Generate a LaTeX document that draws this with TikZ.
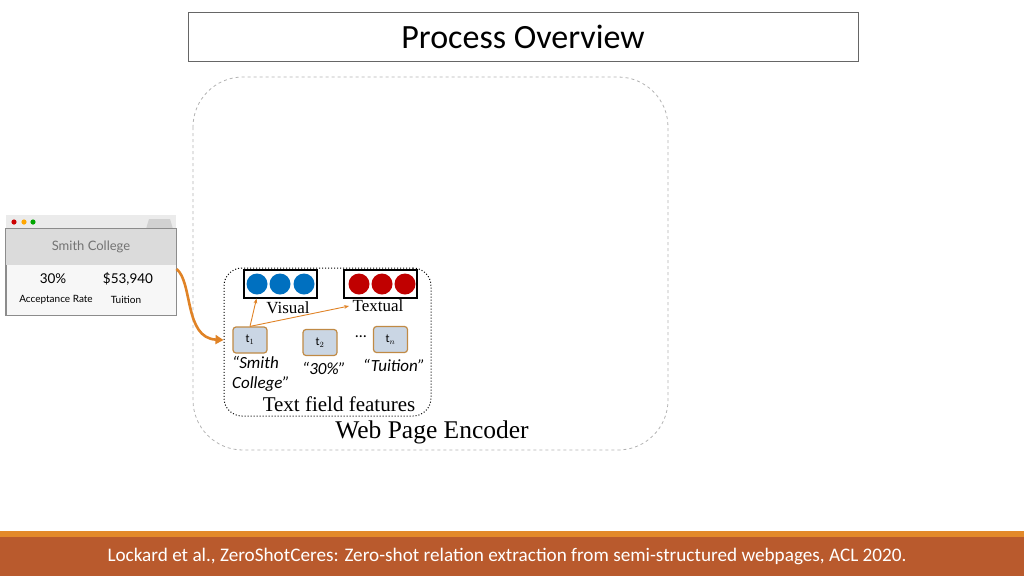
\documentclass[tikz,border=0pt]{standalone}
\usepackage{fontspec}
\setmainfont{Liberation Serif}
\newfontfamily\calibri{Carlito}
\newfontfamily\websans{Lato}
\usetikzlibrary{arrows.meta, positioning, backgrounds, fit}

\definecolor{footbar}{HTML}{B95A2D}
\definecolor{footline}{HTML}{E3892A}
\definecolor{flowor}{HTML}{E08326}
\definecolor{visblue}{HTML}{0070C0}
\definecolor{txtred}{HTML}{C00000}
\definecolor{tokfill}{HTML}{CAD6E4}
\definecolor{tokedge}{HTML}{C08A45}

\tikzset{
  token/.style={draw=tokedge, fill=tokfill, line width=1.2pt, rounded corners=3pt,
    minimum width=34pt, minimum height=26pt, inner sep=0pt,
    font=\calibri\fontsize{12}{13}\selectfont},
  vecbox/.style={draw=black, line width=1.1pt, minimum width=73pt,
    minimum height=28pt, inner sep=0pt},
  dot/.style={circle, minimum size=21pt, inner sep=0pt},
  quote/.style={font=\calibri\itshape\fontsize{17}{20}\selectfont, align=left},
  thin arrow/.style={draw=flowor, line width=0.9pt, -{Stealth[length=5pt]}},
  big arrow/.style={draw=flowor, line width=2.6pt, -{Triangle[length=8pt,width=9pt]}}
}

\begin{document}
\begin{tikzpicture}[x=1pt, y=-1pt]
  \useasboundingbox (0,0) rectangle (1024,576);

  % title
  \node[draw=black!60, line width=0.8pt, minimum width=670pt, minimum height=49pt,
        font=\calibri\fontsize{34}{36}\selectfont] (title) at (523,37) {Process Overview};

  % footer
  \fill[footline] (0,531) rectangle (1024,537);
  \fill[footbar] (0,537) rectangle (1024,576);
  \node[text=white, font=\calibri\fontsize{19.2}{22}\selectfont] (cite) at (507,556)
    {Lockard et al., ZeroShotCeres: Zero-shot relation extraction from semi-structured webpages, ACL 2020.};

  % web page screenshot
  \fill[black!8] (6,215) rectangle (176,229);
  \fill[black!18] (146,229) -- (149,219) -- (170,219) -- (173,229) -- cycle;
  \fill[red!80!black] (14,222) circle (2.6pt);
  \fill[orange!70!yellow] (24,222) circle (2.6pt);
  \fill[green!65!black] (33,222) circle (2.6pt);
  \node[draw=black!45, line width=1pt, fill=black!3, minimum width=170pt, minimum height=86pt,
        inner sep=0pt] (page) at (91,272) {};
  \fill[black!14] (page.north west) rectangle ([yshift=-36pt]page.north east);
  \draw[black!45, line width=1pt] (page.north west) rectangle (page.south east);
  \node[text=black!55, font=\websans\fontsize{13}{14}\selectfont] (pname) at (91,247) {Smith College};
  \node[font=\websans\fontsize{13.5}{15}\selectfont] (rate) at (53,279) {30\%};
  \node[font=\websans\fontsize{13.5}{15}\selectfont] (fee) at (128,279) {\$53,940};
  \node[font=\websans\fontsize{10}{11}\selectfont] (ratelbl) at (56,300) {Acceptance Rate};
  \node[font=\websans\fontsize{10}{11}\selectfont] (feelbl) at (126,300) {Tuition};

  % encoder
  \draw[black!30, dashed, line width=0.8pt, rounded corners=50pt] (193,77) rectangle (668,450);
  \node[font=\fontsize{25.5}{27}\selectfont] (encoder) at (432,432) {Web Page Encoder};

  % text field features
  \node[draw, dotted, line width=1pt, rounded corners=18pt, minimum width=207pt,
        minimum height=148pt] (features) at (327.5,342) {};
  \node[font=\fontsize{21}{23}\selectfont] (featlbl) at (339,404) {Text field features};

  \node[vecbox] (visual) at (280.5,284) {};
  \foreach \x in {257,280,304}
    \node[dot, fill=visblue] at (\x,284) {};
  \node[vecbox] (textual) at (380.5,284) {};
  \foreach \x in {359,382,405}
    \node[dot, fill=txtred] at (\x,284) {};
  \node[font=\fontsize{17}{19}\selectfont] (vislbl) at (288,308) {Visual};
  \node[font=\fontsize{17}{19}\selectfont] (txtlbl) at (378,306) {Textual};

  \node[token] (t1) at (250,340) {t$_1$};
  \node[token] (t2) at (320,342.5) {t$_2$};
  \node[token] (tn) at (390.5,339.5) {t$_n$};
  \node[font=\calibri\fontsize{16}{16}\selectfont] (dots) at (361,337) {\dots};

  \node[quote, anchor=north west, inner sep=0pt] (q1) at (232,356) {\textquotedblleft Smith\\College\textquotedblright};
  \node[quote] (q2) at (324,368) {\textquotedblleft 30\%\textquotedblright};
  \node[quote] (qn) at (394,365) {\textquotedblleft Tuition\textquotedblright};

  \draw[thin arrow] (t1.north) -- ([xshift=-24pt]visual.south);
  \draw[thin arrow] (t1.north) -- (txtlbl.west);

  \draw[big arrow] ([yshift=3pt]page.east) .. controls (193,282) and (184,338) .. (features.west |- t1.west);
\end{tikzpicture}
\end{document}
